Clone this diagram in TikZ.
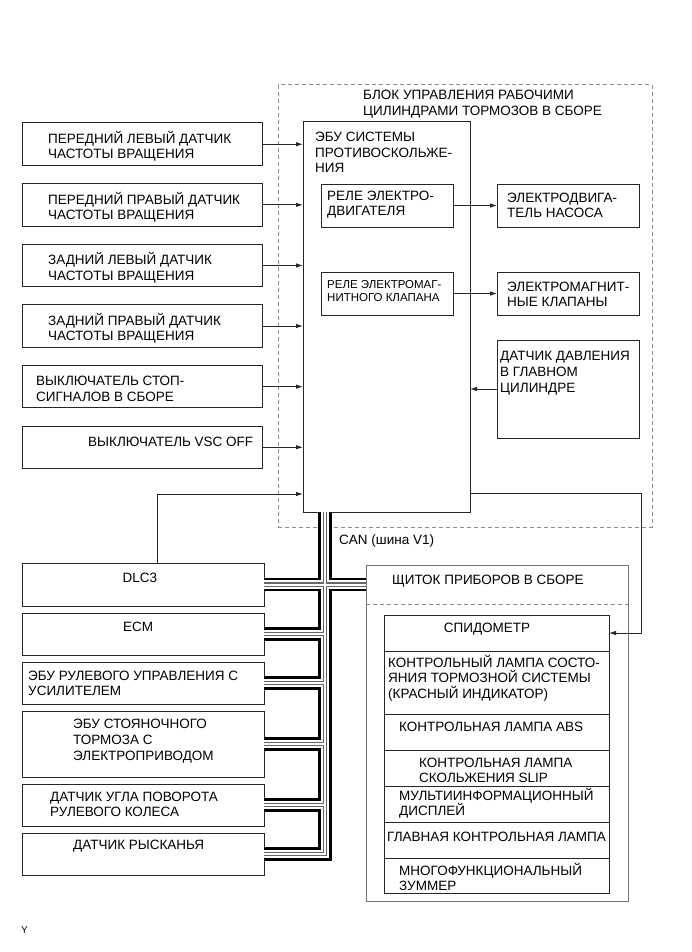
\documentclass[tikz,border=0pt]{standalone}
\usepackage{fontspec}
\setmainfont{Liberation Sans}
\usetikzlibrary{arrows.meta}

\tikzset{
  blk/.style={draw=black!85, line width=1pt, rectangle, inner sep=0pt, outer sep=0pt, anchor=north west},
  txt/.style={anchor=base west, inner sep=0pt, align=left, text=black, font=\fontsize{13.5}{15.5}\selectfont},
  small/.style={font=\fontsize{11.5}{13.5}\selectfont},
  sig/.style={draw=black!85, line width=0.9pt, -{Latex[length=7pt,width=4.5pt]}},
  canbus/.style={draw=black, line width=13.6pt,
    postaction={draw=white, line width=8.4pt},
    postaction={draw=black!60, line width=4.2pt},
    postaction={draw=white, line width=2pt}},
}

\begin{document}
\begin{tikzpicture}[x=1pt,y=-1pt]
\useasboundingbox[fill=white] (0,0) rectangle (691,952);

% brake actuator assembly (text nodes sit on the baseline of their last line)
\node[blk, draw=black!45, dash pattern=on 4pt off 3pt, minimum width=374pt, minimum height=442pt] (act) at (278,85) {};
\node[txt] (actt) at (363,115.5) {БЛОК УПРАВЛЕНИЯ РАБОЧИМИ\\ЦИЛИНДРАМИ ТОРМОЗОВ В СБОРЕ};

\node[blk, minimum width=167pt, minimum height=390pt] (ecu) at (303,122) {};
\node[txt, font=\fontsize{13.5}{16}\selectfont] (ecut) at (315,173) {ЭБУ СИСТЕМЫ\\ПРОТИВОСКОЛЬЖЕ-\\НИЯ};

\node[blk, minimum width=132pt, minimum height=43pt] (rl1) at (321,184) {};
\node[txt] (rl1t) at (327,215.5) {РЕЛЕ ЭЛЕКТРО-\\ДВИГАТЕЛЯ};
\node[blk, minimum width=132pt, minimum height=43pt] (rl2) at (321,272) {};
\node[txt, small] (rl2t) at (327,301.5) {РЕЛЕ ЭЛЕКТРОМАГ-\\НИТНОГО КЛАПАНА};

\node[blk, minimum width=142pt, minimum height=43pt] (mot) at (497,184) {};
\node[txt] (mott) at (507,217.5) {ЭЛЕКТРОДВИГА-\\ТЕЛЬ НАСОСА};
\node[blk, minimum width=142pt, minimum height=43pt] (sol) at (497,272) {};
\node[txt] (solt) at (507,306.5) {ЭЛЕКТРОМАГНИТ-\\НЫЕ КЛАПАНЫ};
\node[blk, minimum width=142pt, minimum height=98pt] (prs) at (497,340) {};
\node[txt, font=\fontsize{13.5}{16}\selectfont] (prst) at (500,392) {ДАТЧИК ДАВЛЕНИЯ\\В ГЛАВНОМ\\ЦИЛИНДРЕ};

\draw[sig] (rl1.east) -- (mot.west);
\draw[sig] (rl2.east) -- (sol.west);
\draw[sig] (prs.west) -- (prs.west -| ecu.east);

% inputs
\foreach \i/\tx/\dy/\lbl in {1/48/15.5/{ПЕРЕДНИЙ ЛЕВЫЙ ДАТЧИК\\ЧАСТОТЫ ВРАЩЕНИЯ},
    2/48/15.5/{ПЕРЕДНИЙ ПРАВЫЙ ДАТЧИК\\ЧАСТОТЫ ВРАЩЕНИЯ},
    3/48/15.5/{ЗАДНИЙ ЛЕВЫЙ ДАТЧИК\\ЧАСТОТЫ ВРАЩЕНИЯ},
    4/48/15.5/{ЗАДНИЙ ПРАВЫЙ ДАТЧИК\\ЧАСТОТЫ ВРАЩЕНИЯ},
    5/36/15.5/{ВЫКЛЮЧАТЕЛЬ СТОП-\\СИГНАЛОВ В СБОРЕ},
    6/88/0/{ВЫКЛЮЧАТЕЛЬ VSC OFF}} {
  \node[blk, minimum width=240pt, minimum height=42.5pt] (s\i) at (22,{123+60.6*(\i-1)}) {};
  \node[txt] (s\i t) at (\tx,{143.5+\dy+60.6*(\i-1)}) {\lbl};
  \draw[sig] (s\i.east) -- (s\i.east -| ecu.west);
}

% CAN nodes
\node[blk, minimum width=242pt, minimum height=43pt] (dlc) at (22,563) {};
\node[txt, anchor=base] (dlct) at (140,582) {DLC3};
\node[blk, minimum width=242pt, minimum height=42pt] (ecm) at (22,613) {};
\node[txt, anchor=base] (ecmt) at (138,631) {ECM};
\node[blk, minimum width=242pt, minimum height=42pt] (eps) at (22,662) {};
\node[txt] (epst) at (28,695.5) {ЭБУ РУЛЕВОГО УПРАВЛЕНИЯ С\\УСИЛИТЕЛЕМ};
\node[blk, minimum width=242pt, minimum height=66pt] (epb) at (22,711) {};
\node[txt, font=\fontsize{13.5}{16}\selectfont] (epbt) at (73,760) {ЭБУ СТОЯНОЧНОГО\\ТОРМОЗА С\\ЭЛЕКТРОПРИВОДОМ};
\node[blk, minimum width=242pt, minimum height=42pt] (sas) at (22,784) {};
\node[txt] (sast) at (50,816.5) {ДАТЧИК УГЛА ПОВОРОТА\\РУЛЕВОГО КОЛЕСА};
\node[blk, minimum width=242pt, minimum height=42pt] (yaw) at (22,833) {};
\node[txt] (yawt) at (73,849) {ДАТЧИК РЫСКАНЬЯ};

% combination meter
\node[blk, draw=black!55, minimum width=262pt, minimum height=336pt] (ipc) at (366,565) {};
\node[txt] (ipct) at (392,584) {ЩИТОК ПРИБОРОВ В СБОРЕ};
\draw[draw=black!45, line width=1pt, dash pattern=on 4pt off 3pt] (ipc.west |- 0,604) -- (ipc.east |- 0,604);
\foreach \n/\t/\h in {1/615/36, 2/651/63, 3/714/36, 4/750/36, 5/786/36, 6/822/36, 7/858/35}
  \node[blk, minimum width=225pt, minimum height=\h] (r\n) at (384,\t) {};
\node[txt, anchor=base] (r1t) at (487,632) {СПИДОМЕТР};
\node[txt] (r2t) at (388,698) {КОНТРОЛЬНЫЙ ЛАМПА СОСТО-\\ЯНИЯ ТОРМОЗНОЙ СИСТЕМЫ\\(КРАСНЫЙ ИНДИКАТОР)};
\node[txt] (r3t) at (399,731) {КОНТРОЛЬНАЯ ЛАМПА ABS};
\node[txt] (r4t) at (419,782.5) {КОНТРОЛЬНАЯ ЛАМПА\\СКОЛЬЖЕНИЯ SLIP};
\node[txt] (r5t) at (399,815.5) {МУЛЬТИИНФОРМАЦИОННЫЙ\\ДИСПЛЕЙ};
\node[txt] (r6t) at (387,841) {ГЛАВНАЯ КОНТРОЛЬНАЯ ЛАМПА};
\node[txt] (r7t) at (399,890.5) {МНОГОФУНКЦИОНАЛЬНЫЙ\\ЗУММЕР};

% other lines
\coordinate (dl) at (157,494);
\draw[sig] (dl |- dlc.north) -- (dl) -- (dl -| ecu.west);
\coordinate (rt) at (641,493);
\draw[sig] (ecu.east |- rt) -- (rt) |- (r1.east);

% CAN bus
\coordinate (bus) at (325,512);
\draw[canbus] (bus) -- (bus |- yaw.east) -- (yaw.east)
  (bus |- dlc.east) -- (dlc.east) (bus |- dlc.east) -- (ipc.west |- dlc.east)
  (bus |- ecm.east) -- (ecm.east) (bus |- eps.east) -- (eps.east)
  (bus |- epb.east) -- (epb.east) (bus |- sas.east) -- (sas.east);
\node[txt] (can) at (339,544) {CAN (шина V1)};

\node[txt, font=\fontsize{10}{11}\selectfont] (ym) at (21,933) {Y};
\end{tikzpicture}
\end{document}
